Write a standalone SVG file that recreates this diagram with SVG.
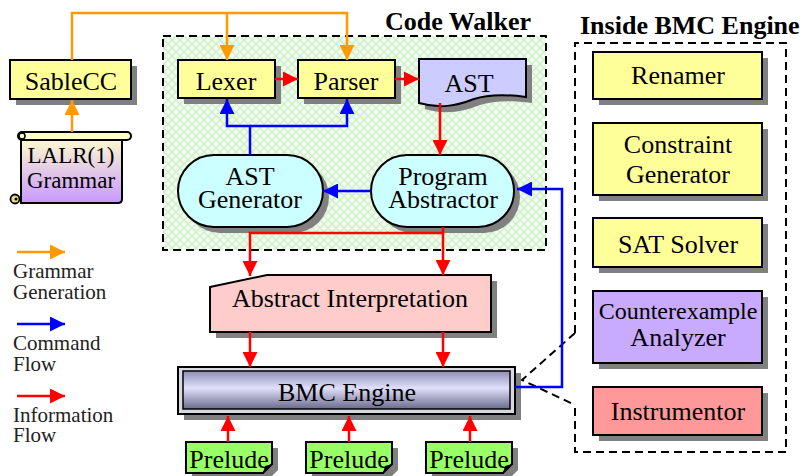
<svg xmlns="http://www.w3.org/2000/svg" width="806" height="476" viewBox="0 0 806 476">
<defs>
<style>
.t{font-family:"Liberation Serif","Times New Roman",serif;font-size:26px;fill:#000;text-anchor:middle}
.tb{font-family:"Liberation Serif","Times New Roman",serif;font-size:26px;font-weight:bold;fill:#000}
.lg{font-family:"Liberation Serif","Times New Roman",serif;font-size:21px;fill:#222}
.box{stroke:#000;stroke-width:2}
.sh{fill:#808080}
.y{fill:#ffff99}
.c{fill:#ccffff}
.dash{fill:none;stroke:#000;stroke-width:2;stroke-dasharray:8,5}
.o{fill:none;stroke:#ff9900;stroke-width:2.5}
.r{fill:none;stroke:#ff0000;stroke-width:2.5}
.b{fill:none;stroke:#0000ff;stroke-width:2.5}
</style>
<marker id="ao" viewBox="0 0 15 15" refX="15" refY="7.5" markerWidth="15" markerHeight="15" markerUnits="userSpaceOnUse" orient="auto"><path d="M0,0L15,7.5L0,15Z" fill="#ff9900"/></marker>
<marker id="ar" viewBox="0 0 15 15" refX="15" refY="7.5" markerWidth="15" markerHeight="15" markerUnits="userSpaceOnUse" orient="auto"><path d="M0,0L15,7.5L0,15Z" fill="#ff0000"/></marker>
<marker id="ab" viewBox="0 0 15 15" refX="15" refY="7.5" markerWidth="15" markerHeight="15" markerUnits="userSpaceOnUse" orient="auto"><path d="M0,0L15,7.5L0,15Z" fill="#0000ff"/></marker>
<pattern id="hatch" width="8" height="8" patternUnits="userSpaceOnUse">
<rect width="8" height="8" fill="#effbec"/>
<path d="M0,4L4,0L8,4L4,8Z" fill="none" stroke="#cdeec6" stroke-width="1.2"/>
</pattern>
<linearGradient id="gscroll" x1="0" y1="0" x2="0" y2="1">
<stop offset="0" stop-color="#ffffcc"/><stop offset="1" stop-color="#c898ff"/>
</linearGradient>
<linearGradient id="gbmc" x1="0" y1="0" x2="0" y2="1">
<stop offset="0" stop-color="#8e8eb4"/><stop offset="0.45" stop-color="#e0e0fb"/><stop offset="1" stop-color="#6a6a8c"/>
</linearGradient>
</defs>

<g id="code-walker">
<rect x="163" y="36" width="383" height="214" fill="url(#hatch)"/>
<rect x="163" y="36" width="383" height="214" class="dash"/>
<text class="tb" x="385" y="30">Code Walker</text>
</g>

<g id="inside-bmc">
<path d="M575,333V43H786V452H575V405" class="dash"/>
<path d="M575,333L522,380L575,405" class="dash" stroke-width="1.8"/>
<text class="tb" x="580" y="34">Inside BMC Engine</text>
</g>

<g id="sablecc">
<rect x="16" y="66" width="121" height="39" class="sh"/>
<rect x="10" y="60" width="121" height="39" class="box y"/>
<text class="t" x="71" y="90">SableCC</text>
</g>

<g id="grammar">
<path d="M21,136H122V199Q122,203 118,203H21Z" fill="url(#gscroll)" class="box"/>
<rect x="18" y="132" width="113" height="8" rx="4" fill="#ffffcc" class="box"/>
<circle cx="22" cy="136" r="3" fill="#ffffcc" stroke="#000" stroke-width="1.5"/>
<circle cx="15" cy="199" r="4.5" fill="#e6dc9a" stroke="#000" stroke-width="1.8"/>
<circle cx="16" cy="199" r="1.5" fill="#000"/>
<text class="t" x="71" y="163" style="font-size:23px">LALR(1)</text>
<text class="t" x="71" y="188" style="font-size:23px">Grammar</text>
</g>

<g id="lexer">
<rect x="184" y="66" width="97" height="38" class="sh"/>
<rect x="178" y="60" width="97" height="38" class="box y"/>
<text class="t" x="226" y="90">Lexer</text>
</g>

<g id="parser">
<rect x="304" y="66" width="97" height="38" class="sh"/>
<rect x="298" y="60" width="97" height="38" class="box y"/>
<text class="t" x="346" y="90">Parser</text>
</g>

<g id="ast">
<path d="M425,65H532V103C510,100 492,101 480,105C462,112 446,115 425,109Z" class="sh"/>
<path d="M419,59H526V97C504,94 486,95 474,99C456,106 440,109 419,103Z" fill="#ccccff" class="box"/>
<text class="t" x="469" y="92">AST</text>
</g>

<g id="ast-generator">
<rect x="184" y="161" width="145" height="72" rx="36" class="sh"/>
<rect x="178" y="155" width="145" height="72" rx="36" class="box c"/>
<text class="t" x="250" y="185">AST</text>
<text class="t" x="250" y="208">Generator</text>
</g>

<g id="program-abstractor">
<rect x="377" y="161" width="143" height="72" rx="36" class="sh"/>
<rect x="371" y="155" width="143" height="72" rx="36" class="box c"/>
<text class="t" x="443" y="185">Program</text>
<text class="t" x="443" y="208">Abstractor</text>
</g>

<g id="abstract-interpretation">
<path d="M216,293L273,281H497V338H216Z" class="sh"/>
<path d="M210,287L267,275H491V332H210Z" fill="#ffcccc" class="box"/>
<text class="t" x="350" y="307">Abstract Interpretation</text>
</g>

<g id="bmc-engine">
<rect x="184" y="373" width="337" height="47" class="sh"/>
<rect x="178" y="367" width="337" height="47" fill="#d8d8e0" class="box"/>
<rect x="183" y="371" width="327" height="38" fill="url(#gbmc)" stroke="#000" stroke-width="1.5"/>
<text class="t" x="347" y="401">BMC Engine</text>
</g>

<g id="prelude-1">
<path d="M192,448H278V470L269,479H192Z" class="sh"/>
<path d="M186,442H272V464L263,473H186Z" fill="#99ff66" class="box"/>
<path d="M263,473L265,466L272,464Z" fill="#000"/>
<text class="t" x="229" y="468">Prelude</text>
</g>
<g id="prelude-2">
<path d="M312,448H398V470L389,479H312Z" class="sh"/>
<path d="M306,442H392V464L383,473H306Z" fill="#99ff66" class="box"/>
<path d="M383,473L385,466L392,464Z" fill="#000"/>
<text class="t" x="349" y="468">Prelude</text>
</g>
<g id="prelude-3">
<path d="M432,448H518V470L509,479H432Z" class="sh"/>
<path d="M426,442H512V464L503,473H426Z" fill="#99ff66" class="box"/>
<path d="M503,473L505,466L512,464Z" fill="#000"/>
<text class="t" x="469" y="468">Prelude</text>
</g>

<g id="renamer">
<rect x="599" y="58" width="169" height="47" class="sh"/>
<rect x="593" y="52" width="169" height="47" class="box y"/>
<text class="t" x="678" y="84">Renamer</text>
</g>
<g id="constraint-generator">
<rect x="599" y="129" width="169" height="72" class="sh"/>
<rect x="593" y="123" width="169" height="72" class="box y"/>
<text class="t" x="678" y="153">Constraint</text>
<text class="t" x="678" y="183">Generator</text>
</g>
<g id="sat-solver">
<rect x="599" y="224" width="169" height="49" class="sh"/>
<rect x="593" y="218" width="169" height="49" class="box y"/>
<text class="t" x="678" y="253">SAT Solver</text>
</g>
<g id="counterexample-analyzer">
<rect x="599" y="297" width="169" height="72" class="sh"/>
<rect x="593" y="291" width="169" height="72" fill="#c8aaff" class="box"/>
<text class="t" x="678" y="319" style="font-size:24px">Counterexample</text>
<text class="t" x="678" y="346">Analyzer</text>
</g>
<g id="instrumentor">
<rect x="599" y="393" width="169" height="48" class="sh"/>
<rect x="593" y="387" width="169" height="48" fill="#ff9999" class="box"/>
<text class="t" x="678" y="420">Instrumentor</text>
</g>

<g id="connectors">
<path d="M72,60V13H347V60" class="o" marker-end="url(#ao)"/>
<path d="M227,13V60" class="o" marker-end="url(#ao)"/>
<path d="M72,132V100" class="o" marker-end="url(#ao)"/>
<path d="M275,79H298" class="r" marker-end="url(#ar)"/>
<path d="M395,79H419" class="r" marker-end="url(#ar)"/>
<path d="M440,103V155" class="r" marker-end="url(#ar)"/>
<path d="M443,227V233H250V276" class="r" marker-end="url(#ar)"/>
<path d="M443,233V275" class="r" marker-end="url(#ar)"/>
<path d="M250,332V367" class="r" marker-end="url(#ar)"/>
<path d="M443,332V367" class="r" marker-end="url(#ar)"/>
<path d="M228,442V416" class="r" marker-end="url(#ar)"/>
<path d="M349,442V416" class="r" marker-end="url(#ar)"/>
<path d="M470,442V416" class="r" marker-end="url(#ar)"/>
<path d="M250,155V126H227V99" class="b" marker-end="url(#ab)"/>
<path d="M250,126H347V99" class="b" marker-end="url(#ab)"/>
<path d="M371,191H323" class="b" marker-end="url(#ab)"/>
<path d="M515,387H562V189H517" class="b" marker-end="url(#ab)"/>
</g>

<g id="legend">
<path d="M17,252H65" class="o" marker-end="url(#ao)"/>
<text class="lg" x="13" y="278">Grammar</text>
<text class="lg" x="13" y="299">Generation</text>
<path d="M17,324H65" class="b" marker-end="url(#ab)"/>
<text class="lg" x="13" y="350">Command</text>
<text class="lg" x="13" y="371">Flow</text>
<path d="M17,396H65" class="r" marker-end="url(#ar)"/>
<text class="lg" x="13" y="422">Information</text>
<text class="lg" x="13" y="442">Flow</text>
</g>
</svg>
